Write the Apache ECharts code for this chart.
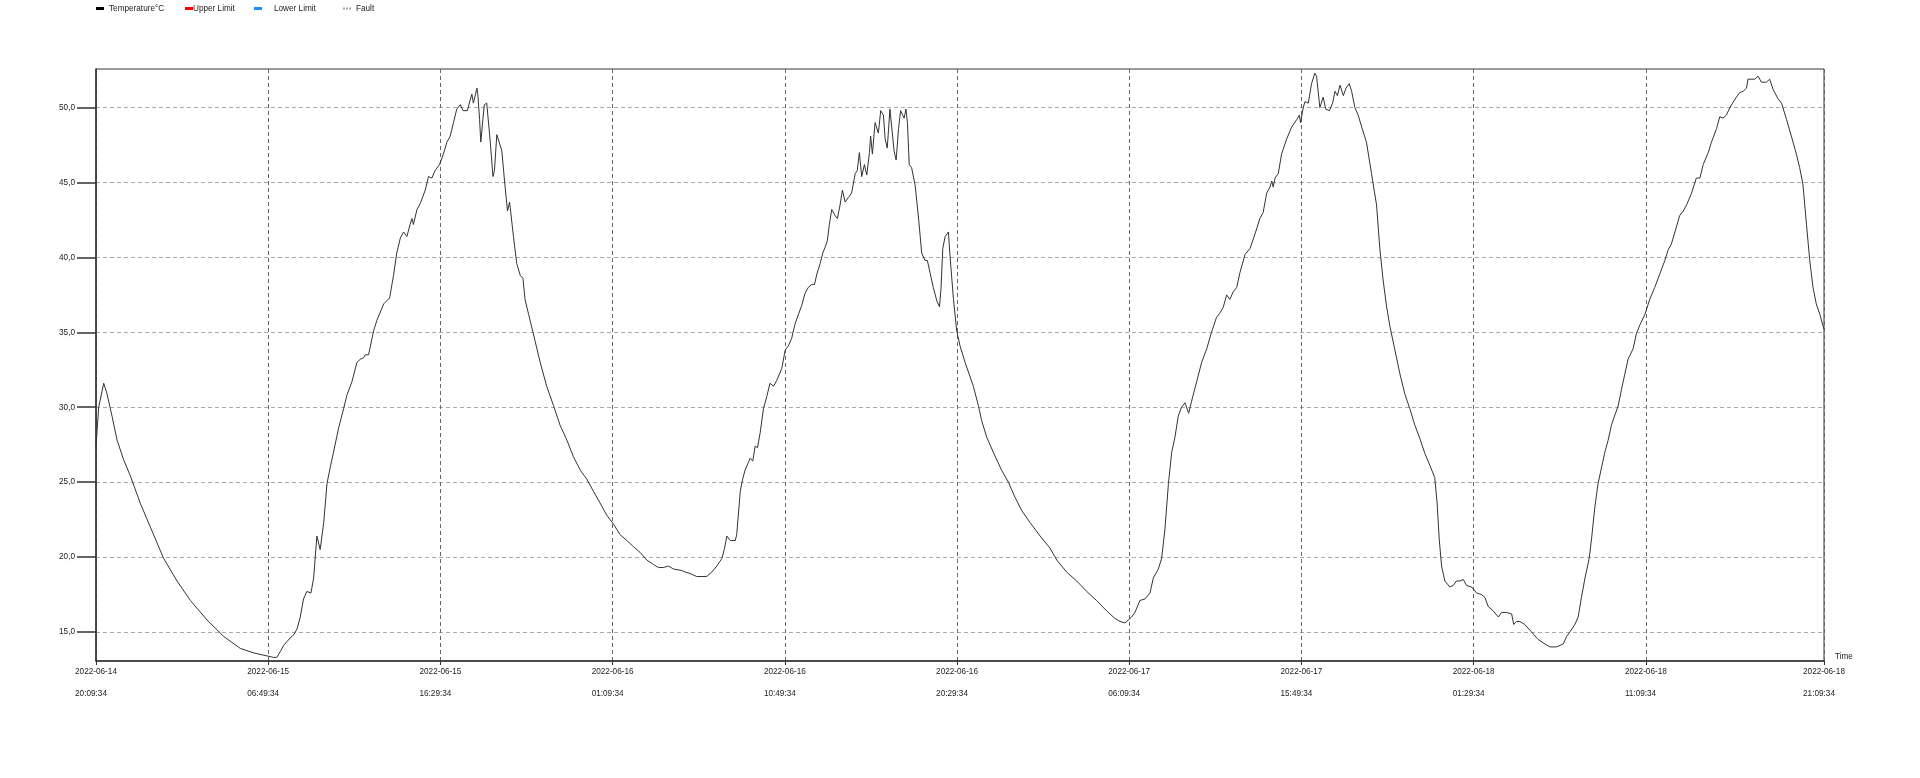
<!DOCTYPE html>
<html>
<head>
<meta charset="utf-8">
<title>Temperature</title>
<script src="https://cdn.jsdelivr.net/npm/echarts@6/dist/echarts.min.js"></script>
<style>
  html, body { margin: 0; padding: 0; background: #fff; }
  #main { width: 1920px; height: 778px; }
</style>
</head>
<body>
<div id="main"></div>
<script>
// x positions are sample positions along the time axis (tick labels below)
var xTickPos = [0, 58, 116, 174, 232, 290, 348, 406, 464, 522, 582];
var xTickDates = ['2022-06-14', '2022-06-15', '2022-06-15', '2022-06-16', '2022-06-16', '2022-06-16',
                  '2022-06-17', '2022-06-17', '2022-06-18', '2022-06-18', '2022-06-18'];
var xTickTimes = ['20:09:34', '06:49:34', '16:29:34', '01:09:34', '10:49:34', '20:29:34',
                  '06:09:34', '15:49:34', '01:29:34', '11:09:34', '21:09:34'];
var yTickValues = [15, 20, 25, 30, 35, 40, 45, 50];

var sampleIdx = [
  0, 0.9, 2.6, 3.7, 5.4, 7.1, 9.3, 11.6, 14.9, 18.3, 22.8, 27.3, 31.8, 37.4, 43.0, 48.6, 53.1, 57.6, 59.8, 60.9,
  62.1, 63.2, 65.4, 66.6, 67.7, 68.8, 69.9, 71.0, 71.6, 72.4, 73.3, 74.4, 75.5, 76.7, 77.8, 78.9, 80.0, 81.7, 83.4, 84.5,
  86.2, 87.9, 89.0, 90.1, 90.7, 91.8, 93.5, 94.6, 96.9, 98.9, 100.2, 101.3, 102.5, 103.6, 104.7, 105.8, 106.4, 106.9, 108.1, 109.2,
  109.7, 110.9, 112.0, 113.1, 114.2, 115.7, 116.3, 117.0, 118.2, 119.3, 120.4, 121.0, 121.5, 122.7, 123.6, 125.1, 126.0, 126.6, 127.1, 128.3,
  128.6, 129.2, 129.6, 130.3, 130.8, 131.6, 132.8, 133.7, 134.2, 135.0, 135.6, 136.7, 137.6, 138.6, 139.3, 139.8, 140.6, 141.7, 142.9, 143.8,
  144.5, 145.7, 147.3, 149.6, 151.8, 154.1, 156.3, 158.6, 160.8, 163.1, 165.3, 167.5, 169.8, 172.0, 174.3, 176.5, 178.8, 181.0, 183.3, 185.5,
  187.8, 189.4, 191.1, 192.8, 194.5, 197.3, 198.4, 200.1, 202.3, 205.7, 207.4, 209.1, 210.8, 211.6, 212.5, 213.6, 215.3, 215.8, 217.0, 217.8,
  218.6, 219.7, 220.3, 221.2, 222.0, 222.8, 223.7, 224.8, 225.9, 227.0, 228.2, 229.3, 231.0, 232.1, 233.2, 234.3, 235.5, 236.6, 237.7, 238.8,
  239.9, 241.1, 242.0, 242.8, 243.9, 244.8, 245.6, 246.3, 247.0, 247.8, 248.9, 249.7, 250.6, 251.4, 252.3, 253.4, 254.5, 255.7, 256.4, 257.1,
  257.9, 258.8, 259.6, 260.5, 260.9, 261.5, 262.4, 263.0, 263.5, 264.3, 265.2, 265.8, 266.5, 267.4, 268.0, 268.8, 269.5, 270.3, 271.0, 271.7,
  272.2, 272.8, 273.3, 273.9, 274.7, 275.9, 277.0, 278.1, 279.2, 280.0, 280.9, 282.0, 283.2, 284.1, 284.6, 285.2, 286.0, 286.5, 287.1, 287.6,
  288.8, 289.9, 291.0, 292.7, 295.5, 297.2, 298.3, 300.0, 302.2, 305.0, 307.3, 309.5, 311.8, 314.6, 318.0, 321.3, 323.6, 326.9, 330.3, 333.7,
  337.0, 340.4, 343.2, 344.9, 346.6, 347.7, 348.8, 349.9, 351.6, 353.3, 355.0, 356.1, 357.8, 358.9, 360.0, 361.2, 362.3, 363.4, 364.5, 365.6,
  366.8, 368.0, 369.0, 370.7, 372.4, 374.1, 375.7, 377.4, 378.6, 379.7, 380.8, 381.9, 383.0, 384.2, 385.3, 387.0, 388.7, 390.9, 392.0, 393.1,
  394.3, 395.4, 396.0, 396.5, 397.1, 398.2, 399.3, 401.0, 402.7, 404.4, 405.3, 405.7, 406.6, 407.2, 408.3, 409.4, 410.5, 411.1, 412.2, 413.3,
  414.2, 415.4, 416.5, 417.3, 418.1, 419.0, 419.5, 420.1, 421.0, 422.1, 422.9, 424.0, 425.1, 426.3, 427.9, 429.6, 431.3, 432.4, 433.5, 434.7,
  435.8, 437.5, 439.2, 440.8, 442.5, 444.2, 445.9, 447.6, 449.3, 450.9, 451.7, 452.4, 453.2, 454.3, 456.0, 457.1, 458.2, 459.4, 460.5, 461.6,
  463.3, 465.0, 466.6, 467.8, 468.9, 470.6, 472.3, 473.4, 475.1, 476.8, 477.5, 478.4, 479.6, 481.2, 483.5, 485.7, 488.0, 489.7, 491.9, 494.2,
  495.3, 496.4, 498.1, 499.2, 500.3, 501.5, 502.9, 503.7, 504.8, 505.9, 507.1, 508.2, 509.3, 510.4, 511.6, 512.7, 513.8, 514.9, 516.0, 517.7,
  518.8, 520.0, 521.7, 523.3, 525.0, 526.7, 528.4, 529.5, 530.6, 531.8, 533.4, 534.6, 535.7, 537.4, 539.0, 540.2, 541.3, 543.0, 544.1, 545.8,
  546.9, 548.0, 549.1, 550.3, 551.2, 552.5, 553.6, 554.8, 555.9, 556.4, 558.7, 559.8, 560.9, 562.6, 563.7, 564.9, 566.5, 567.7, 569.4, 571.0,
  572.7, 573.8, 574.9, 576.1, 577.2, 578.3, 579.4, 580.6, 582
];
var tempC = [
  27.4, 30.0, 31.6, 30.9, 29.4, 27.8, 26.5, 25.4, 23.6, 22.0, 19.9, 18.4, 17.1, 15.8, 14.7, 13.9, 13.6, 13.4, 13.3, 13.3,
  13.7, 14.1, 14.6, 14.8, 15.2, 16.0, 17.2, 17.7, 17.8, 17.6, 18.6, 21.4, 20.5, 22.3, 24.9, 26.0, 27.0, 28.6, 29.9, 30.8,
  31.7, 33.0, 33.2, 33.3, 33.5, 33.5, 35.1, 35.8, 36.9, 37.3, 38.8, 40.3, 41.3, 41.7, 41.4, 42.2, 42.6, 42.2, 43.2, 43.6,
  43.6, 44.5, 45.4, 45.3, 45.8, 46.2, 46.1, 46.9, 47.7, 48.1, 49.0, 49.1, 49.9, 50.2, 49.8, 49.8, 50.5, 50.9, 50.3, 51.3,
  50.9, 49.2, 47.7, 49.2, 50.2, 50.3, 47.7, 45.4, 45.8, 48.2, 48.2, 47.1, 45.1, 43.1, 43.7, 43.8, 41.4, 39.6, 38.8, 38.6,
  37.2, 36.2, 34.9, 33.0, 31.4, 30.1, 28.8, 27.8, 26.7, 25.8, 25.2, 24.4, 23.6, 22.8, 22.2, 21.5, 21.1, 20.7, 20.3, 19.8,
  19.5, 19.3, 19.3, 19.4, 19.2, 19.1, 19.0, 18.9, 18.7, 18.7, 19.0, 19.4, 19.9, 20.5, 21.4, 21.1, 21.1, 21.5, 24.4, 25.2,
  25.8, 26.3, 26.6, 26.4, 27.4, 27.3, 28.3, 29.9, 30.7, 31.6, 31.4, 31.8, 32.6, 33.8, 34.1, 34.6, 35.6, 36.2, 36.8, 37.6,
  38.0, 38.2, 38.2, 38.9, 39.6, 40.3, 40.7, 41.1, 42.2, 43.2, 42.8, 42.6, 43.5, 44.5, 43.7, 44.0, 44.3, 45.6, 45.8, 47.0,
  45.4, 46.2, 45.5, 47.0, 48.1, 46.9, 49.0, 49.1, 48.3, 49.8, 49.5, 47.9, 47.3, 49.9, 49.8, 47.1, 46.5, 48.6, 49.8, 49.5,
  49.3, 49.9, 49.0, 46.2, 46.0, 44.8, 42.7, 40.3, 39.8, 39.8, 39.0, 38.0, 37.1, 36.7, 37.9, 40.6, 41.4, 41.3, 41.7, 40.2,
  37.2, 35.1, 34.1, 33.0, 31.4, 30.1, 29.1, 28.0, 27.0, 25.8, 25.0, 24.0, 23.1, 22.3, 21.4, 20.6, 19.8, 19.0, 18.4, 17.7,
  17.1, 16.4, 15.9, 15.7, 15.6, 15.8, 16.0, 16.3, 17.1, 17.2, 17.6, 18.6, 19.2, 19.9, 21.8, 24.9, 27.0, 28.0, 29.4, 30.0,
  30.3, 29.6, 30.4, 31.7, 33.0, 33.9, 35.0, 36.0, 36.3, 36.7, 37.5, 37.2, 37.7, 38.0, 39.0, 40.2, 40.6, 41.9, 42.6, 43.0,
  44.3, 44.7, 45.1, 44.7, 45.3, 45.6, 46.9, 47.9, 48.7, 49.2, 49.5, 49.0, 50.0, 50.4, 50.3, 51.6, 52.3, 52.1, 50.0, 50.7,
  49.9, 49.8, 50.3, 51.1, 50.8, 51.5, 51.6, 50.8, 51.3, 51.6, 51.1, 50.0, 49.5, 48.7, 47.7, 45.6, 43.5, 40.6, 38.5, 36.7,
  35.4, 33.8, 32.2, 30.9, 29.9, 28.8, 27.9, 26.9, 26.1, 25.3, 23.6, 21.2, 19.4, 18.4, 18.0, 18.1, 18.4, 18.4, 18.5, 18.1,
  18.0, 17.6, 17.5, 17.3, 16.7, 16.4, 16.0, 16.3, 16.3, 16.2, 15.5, 15.7, 15.7, 15.5, 15.0, 14.5, 14.2, 14.0, 14.0, 14.2,
  14.7, 15.0, 15.5, 16.0, 17.3, 18.6, 19.9, 21.2, 23.3, 24.9, 26.0, 27.0, 27.8, 28.8, 29.5, 30.1, 31.2, 32.2, 33.2, 33.9,
  34.9, 35.5, 36.2, 37.2, 38.0, 38.9, 39.8, 40.5, 40.9, 41.7, 42.8, 43.1, 43.5, 44.3, 45.3, 45.3, 46.2, 47.0, 47.7, 48.6,
  49.4, 49.3, 49.5, 50.0, 50.3, 50.7, 51.0, 51.1, 51.3, 51.9, 51.9, 52.1, 51.7, 51.7, 51.9, 51.2, 50.6, 50.3, 49.2, 48.1,
  46.9, 46.0, 44.9, 42.2, 39.8, 38.0, 36.9, 36.2, 35.2
];
var upperLimit = [];
var lowerLimit = [];
var fault = [];

var tempData = sampleIdx.map(function (x, i) { return [x, tempC[i]]; });

var myChart = echarts.init(document.getElementById('main'));

var fontFamily = '"Liberation Sans", Arial, sans-serif';
var smallText = { fontFamily: fontFamily, fontSize: 8.2, color: '#222' };

function legendAt(left, name, color, icon, textPad) {
  return {
    left: left,
    top: 4.5,
    padding: 0,
    data: [name],
    icon: icon,
    itemWidth: 8,
    itemHeight: 3,
    itemGap: 0,
    inactiveColor: color,
    itemStyle: { color: color },
    textStyle: Object.assign({ padding: textPad }, smallText)
  };
}

var option = {
  backgroundColor: '#fff',
  animation: false,
  legend: [
    legendAt(96, 'Temperature°C', '#000', 'rect', [0, 0, 0, 0]),
    legendAt(185, 'Upper Limit', '#ff0000', 'rect', [0, 0, 0, -5]),
    legendAt(254, 'Lower Limit', '#1e90ff', 'rect', [0, 0, 0, 7]),
    legendAt(343, 'Fault', '#aaa', 'path://M0,0h2v2h-2zM3,0h2v2h-2zM6,0h2v2h-2z', [0, 0, 0, 0])
  ],
  grid: {
    left: 96, right: 96, top: 69, bottom: 117,
    show: true, borderColor: '#333', borderWidth: 1
  },
  xAxis: {
    type: 'value',
    min: 0,
    max: 582,
    name: 'Time',
    nameLocation: 'end',
    nameGap: 11,
    nameTextStyle: Object.assign({ verticalAlign: 'bottom', padding: [0, 0, 0, 0] }, smallText),
    axisLine: { lineStyle: { color: '#333', width: 1.5 } },
    axisTick: { show: true, length: 4, customValues: xTickPos, lineStyle: { color: '#333' } },
    axisLabel: {
      customValues: xTickPos,
      margin: 5,
      formatter: function (v) {
        var i = xTickPos.indexOf(v);
        return '{d|' + xTickDates[i] + '}\n{t|' + xTickTimes[i] + '}';
      },
      rich: {
        d: Object.assign({ align: 'left', lineHeight: 12 }, smallText),
        t: Object.assign({ align: 'left', lineHeight: 32 }, smallText)
      }
    },
    splitLine: { show: true, lineStyle: { color: '#666', type: [4, 3], width: 1 } }
  },
  yAxis: {
    type: 'value',
    min: 13.06,
    max: 52.58,
    axisLine: { show: true, lineStyle: { color: '#333', width: 1.5 } },
    axisTick: { show: true, length: 19, customValues: yTickValues, lineStyle: { color: '#333', width: 1.5 } },
    axisLabel: Object.assign({
      customValues: yTickValues,
      margin: 21,
      formatter: function (v) { return v.toFixed(1).replace('.', ','); }
    }, smallText),
    splitLine: { show: true, lineStyle: { color: '#aaa', type: [4, 3], width: 1 } }
  },
  series: [
    {
      name: 'Temperature°C',
      type: 'line',
      data: tempData,
      showSymbol: false,
      symbol: 'none',
      lineStyle: { color: '#333', width: 1 },
      itemStyle: { color: '#000' }
    },
    { name: 'Upper Limit', type: 'line', data: upperLimit, itemStyle: { color: '#ff0000' } },
    { name: 'Lower Limit', type: 'line', data: lowerLimit, itemStyle: { color: '#1e90ff' } },
    { name: 'Fault', type: 'line', data: fault, itemStyle: { color: '#aaa' }, lineStyle: { type: 'dotted' } }
  ]
};

myChart.setOption(option);
</script>
</body>
</html>
